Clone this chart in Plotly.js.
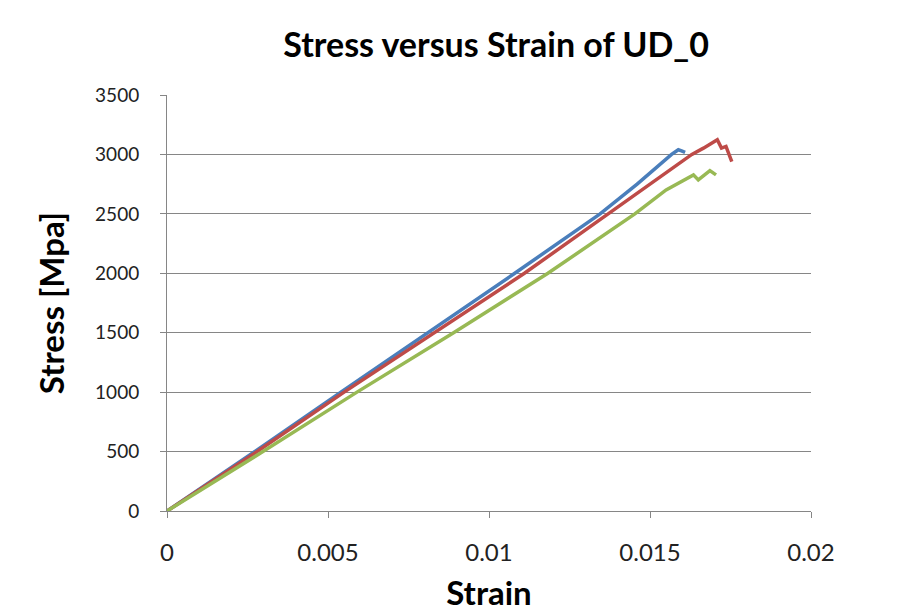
<!DOCTYPE html>
<html>
<head>
<meta charset="utf-8">
<script src="https://cdn.plot.ly/plotly-3.0.1.min.js"></script>
<style>html,body{margin:0;padding:0;background:#fff;}#chart{width:916px;height:612px;}</style>
</head>
<body>
<div id="chart"></div>
<script>
// Specimen 1 (blue)
const strain1 = [0, 0.00273, 0.0054, 0.0081, 0.0108, 0.01345, 0.0146, 0.01567, 0.01578, 0.01588, 0.01598, 0.01609];
const stress1 = [0, 500, 1000, 1500, 2000, 2500, 2750, 3000, 3025, 3039, 3030, 3017];
// Specimen 2 (red)
const strain2 = [0, 0.0028, 0.0055, 0.0083, 0.0111, 0.0137, 0.0150, 0.0163, 0.01666, 0.01709, 0.01722, 0.01736, 0.01754];
const stress2 = [0, 500, 1000, 1500, 2000, 2500, 2750, 3000, 3053, 3123, 3053, 3067, 2940];
// Specimen 3 (green)
const strain3 = [0, 0.00298, 0.0059, 0.0089, 0.01183, 0.01453, 0.0155, 0.01635, 0.0165, 0.01686, 0.01705];
const stress3 = [0, 500, 1000, 1500, 2000, 2500, 2702, 2828, 2786, 2864, 2828];

const xTicks = [0, 0.005, 0.01, 0.015, 0.02];
const xTickText = ['0', '0.005', '0.01', '0.015', '0.02'];
const yTicks = [0, 500, 1000, 1500, 2000, 2500, 3000, 3500];

const FONT = 'Lato, "Open Sans", sans-serif';
const traces = [
  {x: strain1, y: stress1, mode: 'lines', line: {color: '#4a7ebb', width: 3.5}},
  {x: strain2, y: stress2, mode: 'lines', line: {color: '#be4b48', width: 3.5}},
  {x: strain3, y: stress3, mode: 'lines', line: {color: '#98b954', width: 3.5}}
];
const layout = {
  width: 916, height: 612,
  margin: {l: 167, r: 105, t: 95, b: 101},
  paper_bgcolor: '#fff', plot_bgcolor: '#fff',
  showlegend: false,
  title: {text: '<b>Stress versus Strain of UD_0</b>', font: {family: FONT, size: 34, color: '#000'},
          x: 0.511, xanchor: 'center', y: 0.926, yanchor: 'middle', xref: 'paper', yref: 'container'},
  xaxis: {
    range: [0, 0.02], tickvals: xTicks, ticktext: xTickText,
    showgrid: false, zeroline: false, showline: true, linecolor: '#868686', linewidth: 1,
    ticks: 'outside', ticklen: 6, tickcolor: '#868686', ticklabelstandoff: 14,
    tickfont: {family: FONT, size: 24, color: '#222'},
    title: {text: '<b>Strain</b>', font: {family: FONT, size: 33, color: '#000'}, standoff: 19}
  },
  yaxis: {
    range: [0, 3500], tickvals: yTicks,
    showgrid: true, gridcolor: '#868686', gridwidth: 1,
    zeroline: false, showline: true, linecolor: '#868686', linewidth: 1,
    ticks: 'outside', ticklen: 6, tickcolor: '#868686', ticklabelstandoff: 17,
    tickfont: {family: FONT, size: 19, color: '#222'},
    title: {text: '<b>Stress [Mpa]</b>', font: {family: FONT, size: 33, color: '#000'}, standoff: 20}
  }
};
Plotly.newPlot('chart', traces, layout, {displayModeBar: false, staticPlot: true});
</script>
</body>
</html>
